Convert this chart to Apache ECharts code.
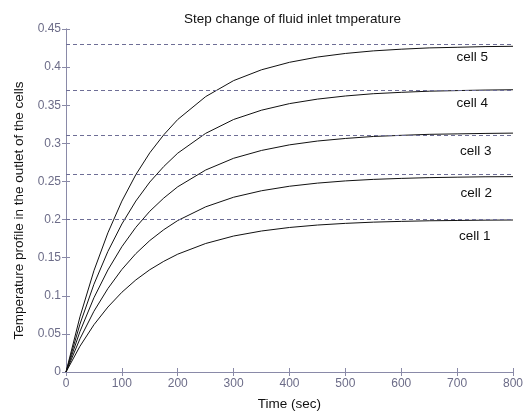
<!DOCTYPE html>
<html><head><meta charset="utf-8">
<script src="https://cdn.jsdelivr.net/npm/echarts@6/dist/echarts.min.js"></script>
<style>html,body{margin:0;padding:0;background:#fff}#c{width:526px;height:420px}</style>
</head><body><div id="c"></div>
<script>
const times = [0,25,50,75,100,125,150,175,200,250,300,350,400,450,500,550,600,650,700,750,800];
const cell1 = [0,.0338,.0620,.0852,.1046,.1208,.1342,.1452,.1546,.1686,.1784,.1850,.1896,.1928,.1950,.1966,.1976,.1984,.1988,.1992,.1994];
const cell2 = [0,.0435,.0797,.1095,.1345,.1553,.1725,.1867,.1987,.2167,.2293,.2378,.2437,.2478,.2507,.2527,.2540,.2550,.2556,.2561,.2563];
const cell3 = [0,.0531,.0974,.1339,.1644,.1898,.2109,.2282,.2430,.2650,.2804,.2907,.2980,.3030,.3064,.3090,.3105,.3118,.3124,.3130,.3134];
const cell4 = [0,.0628,.1151,.1582,.1942,.2243,.2492,.2696,.2871,.3131,.3313,.3435,.3521,.3580,.3621,.3651,.3669,.3684,.3692,.3699,.3703];
const cell5 = [0,.0724,.1329,.1826,.2242,.2589,.2876,.3112,.3313,.3613,.3823,.3965,.4063,.4132,.4179,.4213,.4235,.4252,.4260,.4269,.4273];
const steadyLevels = [0.2, 0.2571, 0.3143, 0.3714, 0.4286];
const cellNames = ['cell 1','cell 2','cell 3','cell 4','cell 5'];
const xTicks = {min:0, max:800, interval:100};
const yTicks = {min:0, max:0.45, interval:0.05};

const allCells = [cell1, cell2, cell3, cell4, cell5];
const axisCol = '#8a8aa8';
const labCol = '#6c6c88';
const font = 'Liberation Sans, Arial, sans-serif';
const labelPad = [13,9,13,19,19];
const labelDist = [9.5,12,8.5,6,6];

const series = allCells.map((vals, i) => ({
  type:'line', name: cellNames[i], xAxisIndex:0, yAxisIndex:0,
  data: times.map((t, j) => [t, vals[j]]),
  showSymbol:false, symbol:'none',
  lineStyle:{color:'#111', width:1},
  animation:false,
  markLine:{
    silent:true, symbol:'none', animation:false,
    lineStyle:{type:[4,3], color:'#6e6e96', width:1},
    label:{show:true, position:'insideEndBottom', formatter: cellNames[i],
      color:'#111', fontFamily:font, fontSize:13.5, distance: labelDist[i],
      padding:[0,labelPad[i],0,0]},
    data:[{yAxis: steadyLevels[i]}]
  }
}));

const chart = echarts.init(document.getElementById('c'), null, {renderer:'canvas'});
chart.setOption({
  backgroundColor:'#fff',
  animation:false,
  title:{text:'Step change of fluid inlet tmperature', left:179, top:7,
    textStyle:{fontFamily:font, fontSize:13.5, fontWeight:'normal', color:'#111'}},
  grid:{left:66, right:10, top:29, bottom:48},
  xAxis:[{
    type:'value', min:xTicks.min, max:xTicks.max, interval:xTicks.interval,
    name:'Time (sec)', nameLocation:'middle', nameGap:25,
    nameTextStyle:{fontFamily:font, fontSize:13.5, color:'#111'},
    axisLine:{show:true, lineStyle:{color:axisCol}},
    axisTick:{show:true, inside:true, length:4, lineStyle:{color:axisCol}},
    axisLabel:{color:labCol, fontFamily:font, fontSize:12, margin:6},
    splitLine:{show:false}
  },{
    type:'value', position:'top', min:xTicks.min, max:xTicks.max, interval:xTicks.interval,
    axisLine:{show:true, lineStyle:{color:axisCol}},
    axisTick:{show:true, inside:true, length:4, lineStyle:{color:axisCol}},
    axisLabel:{show:false}, splitLine:{show:false}
  }],
  yAxis:[{
    type:'value', min:yTicks.min, max:yTicks.max, interval:yTicks.interval,
    name:'Temperature profile in the outlet of the cells', nameLocation:'middle', nameGap:37,
    nameTextStyle:{fontFamily:font, fontSize:13.5, color:'#111', padding:[0,20,0,0]},
    axisLine:{show:true, lineStyle:{color:axisCol}},
    axisTick:{show:true, inside:true, length:4, lineStyle:{color:axisCol}},
    axisLabel:{color:labCol, fontFamily:font, fontSize:12, margin:5},
    splitLine:{show:false}
  },{
    type:'value', position:'right', min:yTicks.min, max:yTicks.max, interval:yTicks.interval,
    axisLine:{show:true, lineStyle:{color:axisCol}},
    axisTick:{show:true, inside:true, length:4, lineStyle:{color:axisCol}},
    axisLabel:{show:false}, splitLine:{show:false}
  }],
  series: series
});
</script>
</body></html>
